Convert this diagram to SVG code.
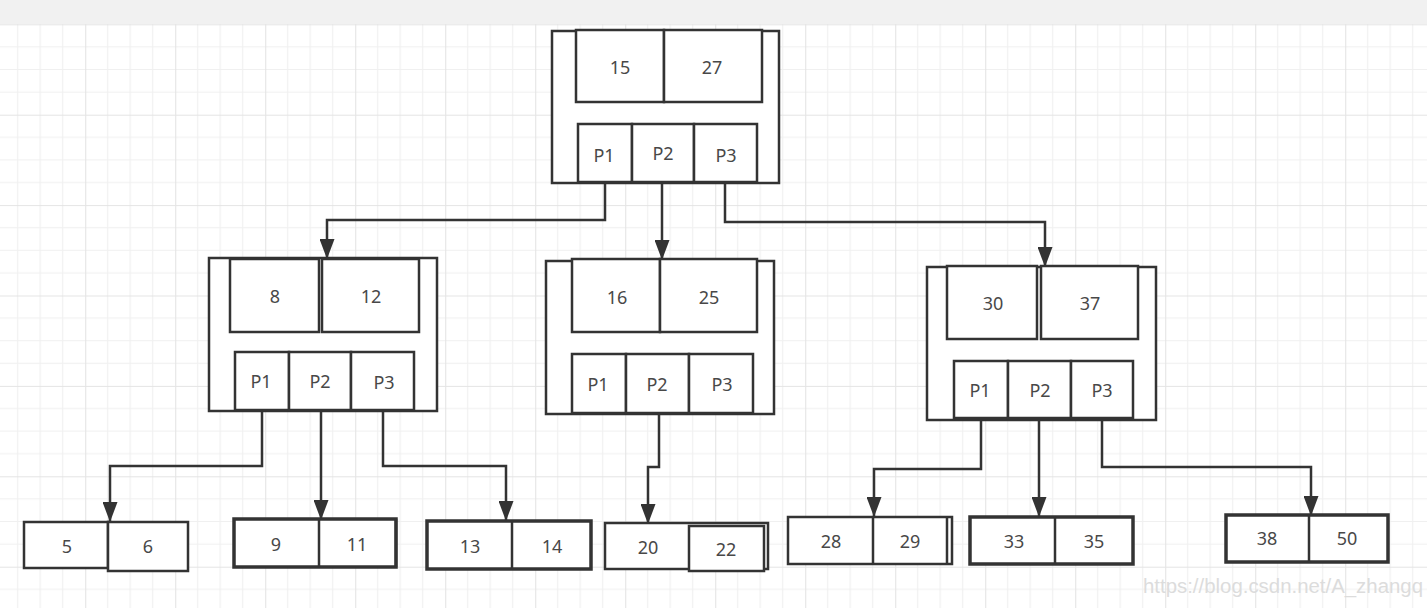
<svg xmlns="http://www.w3.org/2000/svg" width="1427" height="608" viewBox="0 0 1427 608">
<defs>
<pattern id="grid" x="-4.8" y="24.3" width="90" height="90.4" patternUnits="userSpaceOnUse">
<path d="M22.5 0V90.4M45 0V90.4M67.5 0V90.4M0 22.6H90M0 45.2H90M0 67.8H90" stroke="#f0f0f0" stroke-width="1.2" fill="none"/>
<path d="M0.5 0V90.4M0 0.5H90" stroke="#e4e4e4" stroke-width="1.2" fill="none"/>
</pattern>
<marker id="arr" viewBox="0 0 20 15" markerWidth="20" markerHeight="15" refX="19" refY="7.5" orient="auto" markerUnits="userSpaceOnUse">
<path d="M0,0 L20,7.5 L0,15 z" fill="#333"/>
</marker>
</defs>
<style>
.b{fill:#fff;stroke:#333;stroke-width:2.5}
.bt{fill:#fff;stroke:#333;stroke-width:3.5}
.l{fill:none;stroke:#333;stroke-width:2.5}
.c{fill:none;stroke:#333;stroke-width:2.5;marker-end:url(#arr)}
text{font-family:"Noto Sans","Open Sans",sans-serif;font-size:18px;fill:#484848;text-anchor:middle;dominant-baseline:central}
</style>
<rect width="1427" height="608" fill="#fff"/>
<rect y="24" width="1427" height="584" fill="url(#grid)"/>
<rect width="1427" height="24" fill="#f1f1f1"/>

<g id="connectors">
<path class="c" d="M605,183 V220 H327 V258"/>
<path class="c" d="M662,183 V259"/>
<path class="c" d="M725,183 V222 H1045 V266"/>
<path class="c" d="M262,411 V466 H110 V521"/>
<path class="c" d="M321,411 V519"/>
<path class="c" d="M383,411 V466 H506 V520"/>
<path class="c" d="M659,413 V467 H648 V523"/>
<path class="c" d="M981,418 V469 H874 V516"/>
<path class="c" d="M1039,418 V516"/>
<path class="c" d="M1102,418 V467 H1311 V515"/>
</g>

<g id="root">
<rect class="b" x="552" y="31" width="227" height="152"/>
<rect class="b" x="576" y="30" width="88" height="72"/>
<rect class="b" x="664" y="30" width="98" height="72"/>
<rect class="b" x="578" y="124" width="54" height="58"/>
<rect class="b" x="632" y="124" width="62" height="58"/>
<rect class="b" x="694" y="124" width="63" height="58"/>
<text x="620" y="67">15</text><text x="712" y="67">27</text>
<text x="604" y="155">P1</text><text x="663" y="153">P2</text><text x="726" y="155">P3</text>
</g>

<g id="node-left">
<rect class="b" x="209" y="258" width="228" height="153"/>
<rect class="b" x="230" y="259" width="89" height="73"/>
<rect class="b" x="322" y="259" width="97" height="73"/>
<rect class="b" x="235" y="352" width="54" height="58"/>
<rect class="b" x="289" y="352" width="62" height="58"/>
<rect class="b" x="351" y="352" width="63" height="58"/>
<text x="275" y="296">8</text><text x="371" y="296">12</text>
<text x="261" y="381">P1</text><text x="320" y="381">P2</text><text x="384" y="382">P3</text>
</g>

<g id="node-mid">
<rect class="b" x="546" y="261" width="228" height="153"/>
<rect class="b" x="572" y="259" width="88" height="73"/>
<rect class="b" x="660" y="259" width="97" height="73"/>
<rect class="b" x="572" y="354" width="54" height="59"/>
<rect class="b" x="626" y="354" width="63" height="59"/>
<rect class="b" x="689" y="354" width="64" height="59"/>
<text x="617" y="297">16</text><text x="709" y="297">25</text>
<text x="598" y="384">P1</text><text x="657" y="384">P2</text><text x="722" y="384">P3</text>
</g>

<g id="node-right">
<rect class="b" x="927" y="267" width="229" height="153"/>
<rect class="b" x="947" y="266" width="90" height="73"/>
<rect class="b" x="1041" y="266" width="97" height="73"/>
<rect class="b" x="954" y="361" width="54" height="57"/>
<rect class="b" x="1008" y="361" width="63" height="57"/>
<rect class="b" x="1071" y="361" width="62" height="57"/>
<text x="993" y="303">30</text><text x="1090" y="303">37</text>
<text x="980" y="390">P1</text><text x="1040" y="390">P2</text><text x="1102" y="390">P3</text>
</g>

<g id="leaf-5-6">
<rect class="b" x="24" y="522" width="84" height="46"/>
<rect class="b" x="108" y="522" width="80" height="49"/>
<text x="67" y="546">5</text><text x="148" y="546">6</text>
</g>

<g id="leaf-9-11">
<rect class="bt" x="234" y="519" width="162" height="48"/>
<path class="l" d="M319,519 V567"/>
<path class="l" d="M396,519 V567" stroke-width="4.5"/>
<text x="276" y="544">9</text><text x="357" y="544">11</text>
</g>

<g id="leaf-13-14">
<rect class="bt" x="427" y="521" width="164" height="48"/>
<path class="l" d="M512,521 V569" stroke-width="3.5"/>
<text x="470" y="546">13</text><text x="552" y="546">14</text>
</g>

<g id="leaf-20-22">
<rect class="b" x="605" y="523" width="163" height="46"/>
<rect class="b" x="689" y="526" width="75" height="45"/>
<text x="648" y="547">20</text><text x="726" y="549">22</text>
</g>

<g id="leaf-28-29">
<rect class="b" x="788" y="517" width="164" height="47"/>
<path class="l" d="M947,517 V564"/>
<path class="l" d="M873,517 V564"/>
<text x="831" y="541">28</text><text x="910" y="541">29</text>
</g>

<g id="leaf-33-35">
<rect class="bt" x="970" y="517" width="163" height="47"/>
<path class="l" d="M1055,517 V564"/>
<text x="1014" y="541">33</text><text x="1094" y="541">35</text>
</g>

<g id="leaf-38-50">
<rect class="bt" x="1226" y="515" width="162" height="47"/>
<path class="l" d="M1309,515 V562"/>
<text x="1267" y="538">38</text><text x="1347" y="538">50</text>
</g>

<text x="1143" y="593" textLength="280" lengthAdjust="spacingAndGlyphs" style="font-family:'Liberation Sans',Arial,sans-serif;font-size:20px;fill:#dcdcdc;text-anchor:start;dominant-baseline:alphabetic">https://blog.csdn.net/A_zhangq</text>
</svg>
